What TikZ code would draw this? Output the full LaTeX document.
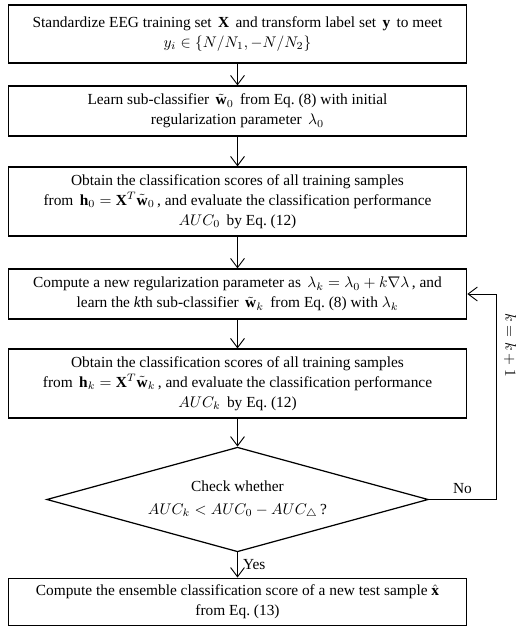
\documentclass[tikz,border=0pt]{standalone}
\usepackage{fontspec}
\setmainfont{Liberation Serif}
\usetikzlibrary{shapes.geometric,arrows.meta}

\begin{document}
\begin{tikzpicture}[
    x=0.65pt,
    y=-0.65pt,
    font=\fontsize{10pt}{13pt}\selectfont,
    stepbox/.style={
        draw,
        line width=0.8pt,
        align=center,
        minimum width=298pt,
        inner sep=2pt
    },
    check/.style={
        draw,
        diamond,
        shape aspect=3.6,
        line width=0.8pt,
        align=center,
        minimum width=248pt,
        minimum height=68pt,
        inner sep=0pt
    },
    flow/.style={
        -{Straight Barb[length=6pt,width=9pt]},
        line width=0.6pt
    }
]
\useasboundingbox (0,0) rectangle (520,627);

% Steps
\node[stepbox,minimum height=37.7pt] (standardize) at (237.5,34) {Standardize EEG training set \,$\mathbf{X}$\, and transform label set \,$\mathbf{y}$\, to meet\\ $y_i\in\{N/N_1,-N/N_2\}$};

\node[stepbox,minimum height=32.5pt] (learn0) at (237.5,111) {Learn sub-classifier \,$\tilde{\mathbf{w}}_0$\, from Eq.~(8) with initial\\ regularization parameter \,$\lambda_0$};

\node[stepbox,minimum height=44.8pt] (score0) at (237.5,201.5) {Obtain the classification scores of all training samples\\ from \,$\mathbf{h}_0=\mathbf{X}^T\tilde{\mathbf{w}}_0$\,, and evaluate the classification performance\\ $AUC_0$\, by Eq.~(12)};

\node[stepbox,minimum height=32.5pt] (learnk) at (237.5,294) {Compute a new regularization parameter as \,$\lambda_k=\lambda_0+k\nabla\lambda$\,, and\\ learn the \textit{k}th sub-classifier \,$\tilde{\mathbf{w}}_k$\, from Eq.~(8) with $\lambda_k$};

\node[stepbox,minimum height=44.8pt] (scorek) at (237.5,383.5) {Obtain the classification scores of all training samples\\ from \,$\mathbf{h}_k=\mathbf{X}^T\tilde{\mathbf{w}}_k$\,, and evaluate the classification performance\\ $AUC_k$\, by Eq.~(12)};

% Decision
\node[check] (check) at (237.5,499.5) {Check whether\\[2pt] $AUC_k<AUC_0-AUC_\triangle$\,?};

\node[stepbox,minimum height=31pt] (ensemble) at (237.5,602) {Compute the ensemble classification score of a new test sample $\hat{\mathbf{x}}$\\ from Eq.~(13)};

% Connectors
\draw[flow] (standardize) -- (learn0);
\draw[flow] (learn0) -- (score0);
\draw[flow] (score0) -- (learnk);
\draw[flow] (learnk) -- (scorek);
\draw[flow] (scorek) -- (check);
\draw[flow] (check) -- node[right] {Yes} (ensemble);

% Loop back
\coordinate (back) at (496,499.5);
\draw[flow] (check.east) -- node[above] {No} (back) |- (learnk.east);
\node[rotate=-90] (incr) at (510,345) {$k=k+1$};

\end{tikzpicture}
\end{document}
